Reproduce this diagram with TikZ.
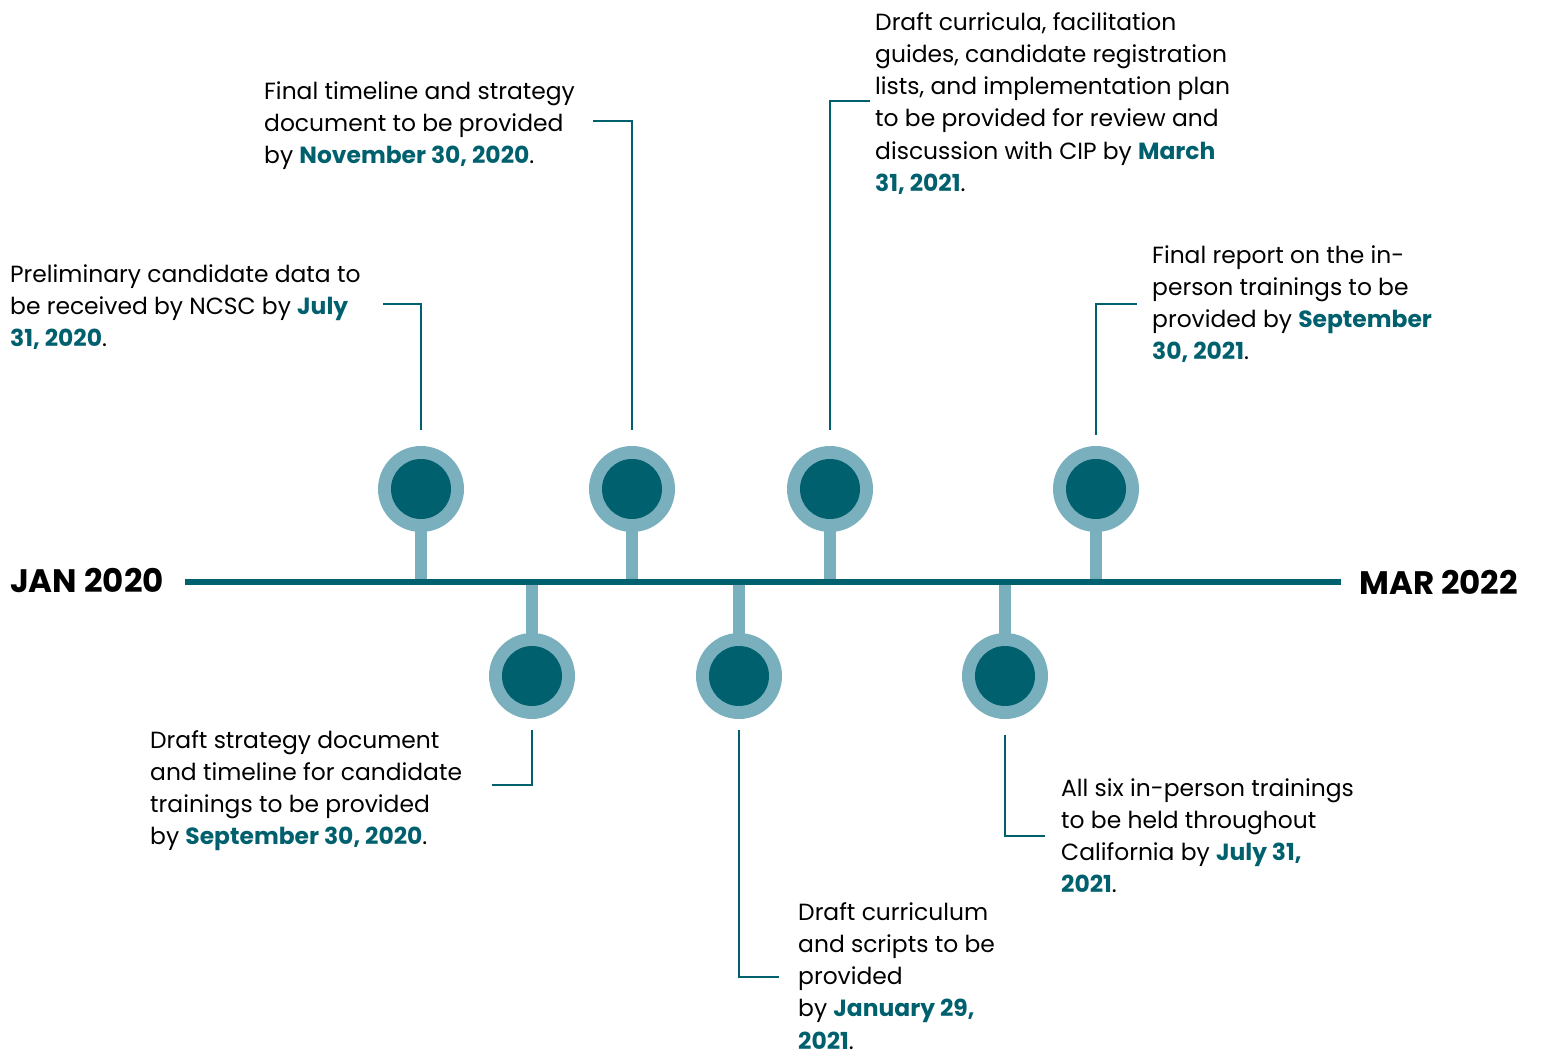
\documentclass[tikz,border=0pt]{standalone}
\usepackage{fontspec}
\setmainfont{Poppins}
\definecolor{dark}{RGB}{0,96,110}
\definecolor{light}{RGB}{122,176,189}
\newcommand{\hl}[1]{\textbf{\color{dark}#1}}
\tikzset{
  txt/.style={anchor=north west,inner sep=0pt,align=left,font=\fontsize{23.4}{32.3}\selectfont},
  lbl/.style={inner sep=0pt,font=\fontsize{32.5}{36}\selectfont\bfseries},
  ring/.style={circle,fill=light,minimum size=86pt,inner sep=0pt},
  core/.style={circle,fill=dark,minimum size=60pt,inner sep=0pt},
  stem/.style={light,line width=12pt},
  conn/.style={dark,line width=1.8pt},
  axis/.style={dark,line width=6pt}
}
\begin{document}
\begin{tikzpicture}[x=1pt,y=-1pt]
\useasboundingbox (0,0) rectangle (1542,1054);
% axis
\coordinate (L) at (185,582);
\coordinate (R) at (1341,582);
% stems
\foreach \n/\x in {a/421,c/632,e/830,g/1096}{
  \coordinate (\n s) at (\x,580);
  \draw[stem] (\n s) -- (\x,489);
}
\foreach \n/\x in {b/532,d/739,f/1005}{
  \coordinate (\n s) at (\x,584);
  \draw[stem] (\n s) -- (\x,676);
}
\draw[axis] (L) -- (R);
% circles
\foreach \n/\x/\y in {a/421/489,c/632/489,e/830/489,g/1096/489,b/532/676,d/739/676,f/1005/676}{
  \node[ring] (\n r) at (\x,\y) {};
  \node[core] (\n) at (\x,\y) {};
}
\node[lbl,anchor=west] (jan) at (10,580) {JAN 2020};
\node[lbl,anchor=west] (mar) at (1359,582) {MAR 2022};
% texts
\node[txt] (ta) at (10,264) {Preliminary candidate data to\\be received by NCSC by \hl{July}\\\hl{31, 2020}.};
\node[txt] (tc) at (264,81) {Final timeline and strategy\\document to be provided\\by \hl{November 30, 2020}.};
\node[txt] (te) at (875,12) {Draft curricula, facilitation\\guides, candidate registration\\lists, and implementation plan\\to be provided for review and\\discussion with CIP by \hl{March}\\\hl{31, 2021}.};
\node[txt] (tg) at (1152,245) {Final report on the in-\\person trainings to be\\provided by \hl{September}\\\hl{30, 2021}.};
\node[txt] (tb) at (150,730) {Draft strategy document\\and timeline for candidate\\trainings to be provided\\by \hl{September 30, 2020}.};
\node[txt] (td) at (798,902) {Draft curriculum\\and scripts to be\\provided\\by \hl{January 29,}\\\hl{2021}.};
\node[txt] (tf) at (1061,778) {All six in-person trainings\\to be held throughout\\California by \hl{July 31,}\\\hl{2021}.};
% connectors
\coordinate (ca) at (383,304);
\draw[conn] (ca) -- (421,304) -- ([yshift=16pt]ar.north);
\coordinate (cc) at (593,121);
\draw[conn] (cc) -- (632,121) -- ([yshift=16pt]cr.north);
\coordinate (ce) at (870,101);
\draw[conn] ([yshift=16pt]er.north) -- (830,101) -- (ce);
\coordinate (cg) at (1137,304);
\draw[conn] ([yshift=11pt]gr.north) -- (1096,304) -- (cg);
\coordinate (cb) at (492,785);
\draw[conn] ([yshift=-11pt]br.south) -- (532,785) -- (cb);
\coordinate (cd) at (779,977);
\draw[conn] ([yshift=-11pt]dr.south) -- (739,977) -- (cd);
\coordinate (cf) at (1045,836);
\draw[conn] ([yshift=-16pt]fr.south) -- (1005,836) -- (cf);
\end{tikzpicture}
\end{document}
